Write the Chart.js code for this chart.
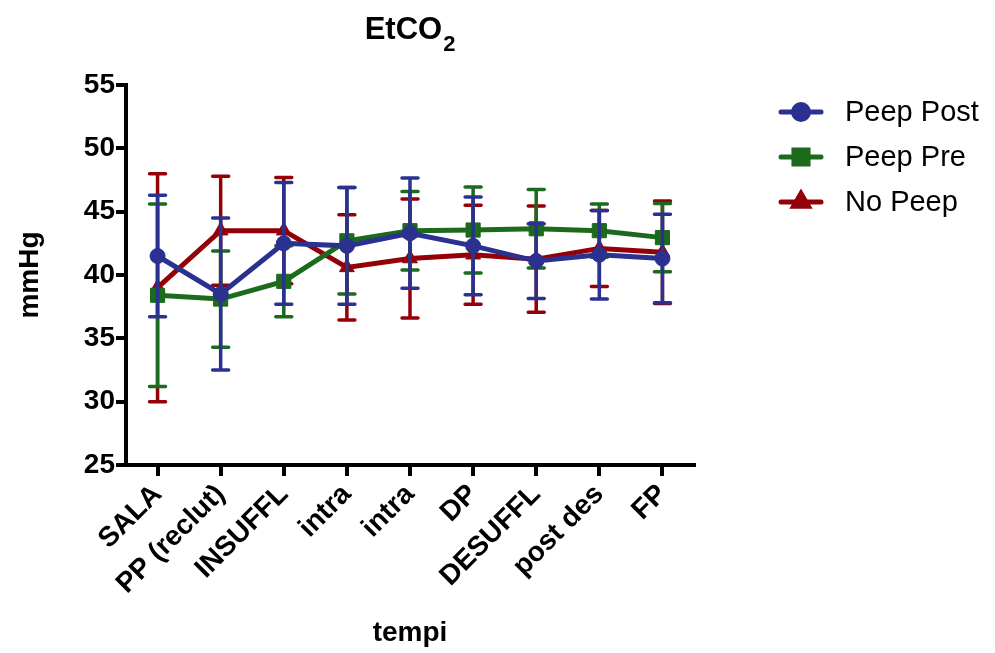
<!DOCTYPE html>
<html>
<head>
<meta charset="utf-8">
<script src="https://cdn.jsdelivr.net/npm/chart.js@4/dist/chart.umd.min.js"></script>
<style>
  html, body { margin: 0; padding: 0; background: #ffffff; }
  #wrap { width: 995px; height: 653px; }
</style>
</head>
<body>
<div id="wrap"><canvas id="c" width="995" height="653"></canvas></div>
<script>
// ---- data ----
const categories = ['SALA', 'PP (reclut)', 'INSUFFL', 'intra', 'intra', 'DP', 'DESUFFL', 'post des', 'FP'];
const seriesNames = ['Peep Post', 'Peep Pre', 'No Peep'];
const peepPost    = [41.5, 38.5, 42.5, 42.3, 43.3, 42.3, 41.1, 41.6, 41.3];
const peepPostErr = [4.8, 6.0, 4.8, 4.6, 4.35, 3.85, 2.95, 3.5, 3.5];
const peepPre     = [38.4, 38.1, 39.5, 42.7, 43.5, 43.55, 43.65, 43.5, 42.95];
const peepPreErr  = [7.2, 3.8, 2.8, 4.2, 3.1, 3.4, 3.1, 2.1, 2.7];
const noPeep      = [39.0, 43.5, 43.5, 40.6, 41.3, 41.6, 41.25, 42.1, 41.8];
const noPeepErr   = [9.0, 4.3, 4.2, 4.15, 4.7, 3.9, 4.2, 3.0, 4.05];
const yTicks = [25, 30, 35, 40, 45, 50, 55];
const titleMain = 'EtCO';
const titleSub = '2';
const xTitle = 'tempi';
const yTitle = 'mmHg';

const BLUE = '#2b3190';
const GREEN = '#1c6a1c';
const RED = '#940008';
const FONT = "'Liberation Sans', Arial, sans-serif";

const errorBars = {
  id: 'errorBars',
  beforeDatasetDraw(chart, args) {
    const ds = chart.data.datasets[args.index];
    const yScale = chart.scales.y;
    const ctx = chart.ctx;
    ctx.save();
    ctx.strokeStyle = ds.borderColor;
    ctx.lineWidth = 3.5;
    ctx.lineCap = 'round';
    args.meta.data.forEach((pt, i) => {
      const v = ds.data[i], e = ds.errors[i];
      const yt = yScale.getPixelForValue(v + e);
      const yb = yScale.getPixelForValue(v - e);
      const x = pt.x;
      ctx.beginPath();
      ctx.moveTo(x, yt); ctx.lineTo(x, yb);
      ctx.moveTo(x - 8, yt); ctx.lineTo(x + 8, yt);
      ctx.moveTo(x - 8, yb); ctx.lineTo(x + 8, yb);
      ctx.stroke();
    });
    ctx.restore();
  }
};

const titleAndLegend = {
  id: 'titleAndLegend',
  afterDraw(chart) {
    const ctx = chart.ctx;
    const area = chart.chartArea;
    ctx.save();
    // title with subscript
    ctx.fillStyle = '#000';
    ctx.textBaseline = 'alphabetic';
    ctx.textAlign = 'left';
    ctx.font = 'bold 31px ' + FONT;
    const w1 = ctx.measureText(titleMain).width;
    ctx.font = 'bold 22px ' + FONT;
    const w2 = ctx.measureText(titleSub).width;
    const cx = (area.left + area.right) / 2;
    const x0 = cx - (w1 + w2 + 1) / 2;
    ctx.font = 'bold 31px ' + FONT;
    ctx.fillText(titleMain, x0, 39);
    ctx.font = 'bold 22px ' + FONT;
    ctx.fillText(titleSub, x0 + w1 + 1, 51);

    // legend
    const rowY = [112, 157, 202];
    chart.data.datasets.forEach((ds, i) => {
      const y = rowY[i];
      ctx.strokeStyle = ds.borderColor;
      ctx.fillStyle = ds.borderColor;
      ctx.lineWidth = 5;
      ctx.lineCap = 'round';
      ctx.beginPath();
      ctx.moveTo(781, y); ctx.lineTo(821, y);
      ctx.stroke();
      Chart.helpers.drawPoint(ctx, {
        pointStyle: ds.pointStyle, radius: ds.pointRadius, rotation: 0, borderWidth: 1
      }, 801, y);
      ctx.fillStyle = '#000';
      ctx.font = '29px ' + FONT;
      ctx.textBaseline = 'middle';
      ctx.fillText(ds.label, 845, y + 1);
    });
    ctx.restore();
  }
};

function mkDataset(label, data, errs, color, style, radius) {
  return {
    label, data, errors: errs,
    borderColor: color, backgroundColor: color,
    pointBackgroundColor: color, pointBorderColor: color,
    pointStyle: style, pointRadius: radius, pointBorderWidth: 1,
    borderWidth: 5, tension: 0, fill: false
  };
}

new Chart(document.getElementById('c'), {
  type: 'line',
  data: {
    labels: categories,
    datasets: [
      mkDataset(seriesNames[0], peepPost, peepPostErr, BLUE, 'circle', 7.5),
      mkDataset(seriesNames[1], peepPre, peepPreErr, GREEN, 'rect', 10),
      mkDataset(seriesNames[2], noPeep, noPeepErr, RED, 'triangle', 8.5)
    ]
  },
  options: {
    responsive: false,
    animation: false,
    devicePixelRatio: 1,
    layout: { padding: { left: 0, right: 301, top: 85, bottom: 0 } },
    plugins: {
      legend: { display: false },
      title: { display: false },
      tooltip: { enabled: false }
    },
    scales: {
      x: {
        type: 'category',
        offset: true,
        afterFit: (s) => { s.height = 188; },
        grid: { display: true, drawOnChartArea: false, drawTicks: true, tickLength: 11, color: '#000', lineWidth: 4 },
        border: { display: true, color: '#000', width: 4 },
        ticks: {
          color: '#000', autoSkip: false, maxRotation: 45, minRotation: 45, padding: 2,
          font: { family: FONT, size: 28, weight: 'bold' }
        },
        title: {
          display: true, text: xTitle, color: '#000',
          font: { family: FONT, size: 28, weight: 'bold' },
          padding: { top: 0, bottom: 3 }
        }
      },
      y: {
        min: yTicks[0], max: yTicks[yTicks.length - 1],
        afterFit: (s) => { s.width = 126; },
        afterBuildTicks: (s) => { s.ticks = yTicks.map(v => ({ value: v })); },
        grid: { display: true, drawOnChartArea: false, drawTicks: true, tickLength: 10, color: '#000', lineWidth: 4 },
        border: { display: true, color: '#000', width: 4 },
        ticks: {
          color: '#000', padding: 1,
          font: { family: FONT, size: 28, weight: 'bold' }
        },
        title: {
          display: true, text: yTitle, color: '#000',
          font: { family: FONT, size: 28, weight: 'bold' },
          padding: { top: 13, bottom: 0 }
        }
      }
    }
  },
  plugins: [errorBars, titleAndLegend]
});
</script>
</body>
</html>
